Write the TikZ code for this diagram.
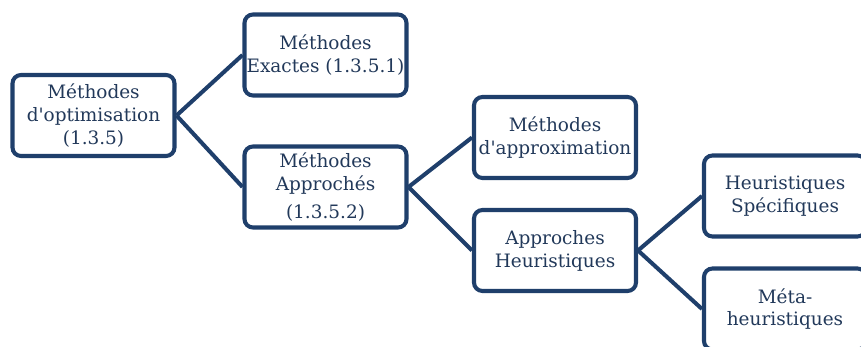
\documentclass[tikz,border=0pt]{standalone}
\usepackage{fontspec}
\setmainfont{DejaVu Serif}
\definecolor{bordure}{HTML}{1F3F6B}
\definecolor{texte}{HTML}{22395A}

\tikzset{
  boite/.style={draw=bordure, line width=2.3pt, rounded corners=0.17cm, fill=white,
    minimum width=3.24cm, minimum height=1.62cm, align=center, inner sep=1pt,
    text=texte, font=\fontsize{10.5}{13}\selectfont},
  lien/.style={draw=bordure, line width=2.3pt}
}

\begin{document}
\begin{tikzpicture}

            \clip (0,0) rectangle (17.22,-6.94);
            \useasboundingbox (0,0) rectangle (17.22,-6.94);

            % niveau 1
            \node[boite] (optim) at (1.87,-2.31) {Méthodes\\d\textquotesingle optimisation\\(1.3.5)};

            % niveau 2
            \node[boite] (exactes) at (6.51,-1.10) {Méthodes\\Exactes (1.3.5.1)};
            \node[boite] (approches) at (6.51,-3.74) {Méthodes\\Approchés\\[3pt](1.3.5.2)};

            % niveau 3
            \node[boite] (approx) at (11.10,-2.75) {Méthodes\\d\textquotesingle approximation};
            \node[boite] (heur) at (11.10,-5.01) {Approches\\Heuristiques};

            % niveau 4
            \node[boite] (specif) at (15.70,-3.92) {Heuristiques\\Spécifiques};
            \node[boite] (meta) at (15.70,-6.18) {Méta-\\heuristiques};

            \draw[lien] (optim.east)--(exactes.west);
            \draw[lien] (optim.east)--(approches.west);
            \draw[lien] (approches.east)--(approx.west);
            \draw[lien] (approches.east)--(heur.west);
            \draw[lien] (heur.east)--(specif.west);
            \draw[lien] (heur.east)--(meta.west);

        \end{tikzpicture}
\end{document}
